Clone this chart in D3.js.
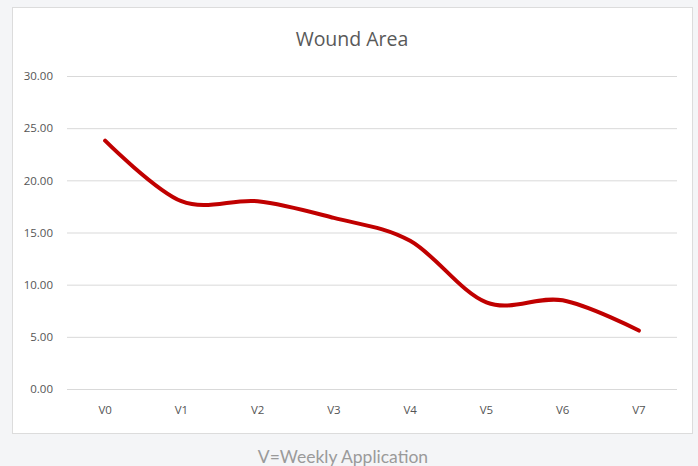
<!DOCTYPE html>
<html>
<head>
<meta charset="utf-8">
<script src="https://cdn.jsdelivr.net/npm/d3@7"></script>
<style>
  body { margin: 0; background: #f4f5f7; }
  svg { display: block; }
</style>
</head>
<body>
<svg id="chart" width="698" height="466"></svg>
<script>
const visits = ['V0', 'V1', 'V2', 'V3', 'V4', 'V5', 'V6', 'V7']
const woundArea = [23.8, 18.0, 18.0, 16.4, 14.2, 8.3, 8.5, 5.6]
const yTicks = [0, 5, 10, 15, 20, 25, 30]

const svg = d3.select('#chart')

// chart card
svg.append('rect')
  .attr('x', 12.5)
  .attr('y', 7.5)
  .attr('width', 680)
  .attr('height', 426)
  .attr('fill', '#ffffff')
  .attr('stroke', '#dcdcdc')

const x = d3.scaleBand()
  .domain(visits)
  .range([67, 677])

const y = d3.scaleLinear()
  .domain([0, 30])
  .range([389, 76])

// gridlines
const yAxis = d3.axisLeft(y)
  .tickValues(yTicks)
  .tickSize(-(677 - 67))
  .tickPadding(14)
  .tickFormat(d3.format('.2f'))

const yG = svg.append('g')
  .attr('transform', 'translate(67,0)')
  .call(yAxis)

yG.select('.domain').remove()
yG.selectAll('.tick line')
  .attr('stroke', '#d9d9d9')
  .attr('stroke-width', 1)
yG.selectAll('.tick text')
  .attr('fill', '#555555')
  .attr('font-family', 'Open Sans')
  .attr('font-size', '11.5px')

const xAxis = d3.axisBottom(x)
  .tickSize(0)
  .tickPadding(17)

const xG = svg.append('g')
  .attr('transform', 'translate(0,389)')
  .call(xAxis)

xG.select('.domain').remove()
xG.selectAll('.tick text')
  .attr('fill', '#555555')
  .attr('font-family', 'Open Sans')
  .attr('font-size', '11.5px')

// smoothed line
const line = d3.line()
  .x((d, i) => x(visits[i]) + x.bandwidth() / 2)
  .y(d => y(d))
  .curve(d3.curveCardinal.tension(0))

svg.append('path')
  .datum(woundArea)
  .attr('d', line)
  .attr('fill', 'none')
  .attr('stroke', '#c00000')
  .attr('stroke-width', 4)
  .attr('stroke-linecap', 'round')
  .attr('stroke-linejoin', 'round')

svg.append('text')
  .attr('x', 352)
  .attr('y', 46)
  .attr('text-anchor', 'middle')
  .attr('fill', '#595959')
  .attr('font-family', 'Open Sans')
  .attr('font-size', '19.5px')
  .text('Wound Area')

svg.append('text')
  .attr('x', 343)
  .attr('y', 463)
  .attr('text-anchor', 'middle')
  .attr('fill', '#9a9a9a')
  .attr('font-family', 'Lato')
  .attr('font-size', '17.5px')
  .text('V=Weekly Application')
</script>
</body>
</html>
